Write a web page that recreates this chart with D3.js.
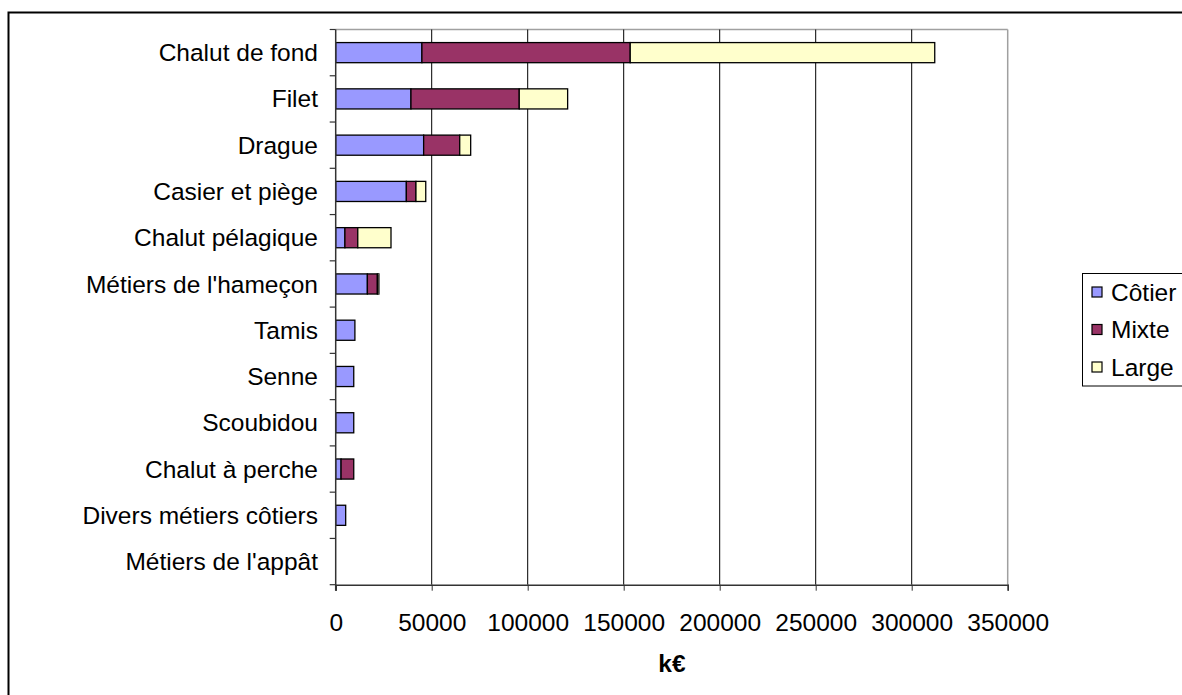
<!DOCTYPE html>
<html><head><meta charset="utf-8">
<script src="https://cdn.jsdelivr.net/npm/d3@7"></script>
<style>body{margin:0;background:#fff;} text{font-family:"Liberation Sans",Arial,sans-serif;}</style>
</head><body>
<svg id="c" width="1182" height="695"></svg>
<script>
const categories = ["Chalut de fond","Filet","Drague","Casier et piège","Chalut pélagique","Métiers de l'hameçon","Tamis","Senne","Scoubidou","Chalut à perche","Divers métiers côtiers","Métiers de l'appât"];
const cotier = [44900, 39200, 45800, 36800, 4800, 16500, 10000, 9400, 9400, 2800, 5200, 0];
const mixte  = [108500, 56400, 18800, 5000, 6700, 5200, 0, 0, 0, 6600, 0, 0];
const large  = [158600, 25200, 5700, 5100, 17300, 800, 0, 0, 0, 0, 0, 0];
const seriesNames = ["Côtier","Mixte","Large"];
const colors = ["#9999FF","#993366","#FFFFCC"];
const xTicks = [0,50000,100000,150000,200000,250000,300000,350000];
const FS = 24.5;

const svg = d3.select("#c");
// outer border
svg.append("rect").attr("x",8.5).attr("y",12.5).attr("width",1200).attr("height",700)
  .attr("fill","none").attr("stroke","#000").attr("stroke-width",2);

const L=335.7, R=1007.7, T=29.5, B=584.7;
const x = d3.scaleLinear().domain([0,350000]).range([L,R]);
const y = d3.scaleBand().domain(categories).range([T,B]).paddingInner(1.3/2.3).paddingOuter(0.65/2.3);
const yb = d3.scaleBand().domain(categories).range([T,B]);

// plot area border (top/right gray)
svg.append("line").attr("x1",L).attr("x2",R).attr("y1",T).attr("y2",T).attr("stroke","#a0a0a0").attr("stroke-width",1.5);
svg.append("line").attr("x1",R).attr("x2",R).attr("y1",T).attr("y2",B).attr("stroke","#a0a0a0").attr("stroke-width",1.5);
// gridlines
svg.append("g").selectAll("line").data(xTicks.slice(1,-1)).join("line")
  .attr("x1",d=>x(d)).attr("x2",d=>x(d)).attr("y1",T).attr("y2",B).attr("stroke","#000").attr("stroke-width",1);

// stacked bars
const data = categories.map((c,i)=>({cat:c, "Côtier":cotier[i], "Mixte":mixte[i], "Large":large[i]}));
const stack = d3.stack().keys(seriesNames)(data);
stack.forEach((s,si)=>{
  svg.append("g").selectAll("rect").data(s.filter(d=>d[1]-d[0]>0)).join("rect")
    .attr("x",d=>x(d[0])).attr("width",d=>x(d[1])-x(d[0]))
    .attr("y",d=>y(d.data.cat)).attr("height",y.bandwidth())
    .attr("fill",colors[si]).attr("stroke","#000").attr("stroke-width",1.3);
});

// x axis
const xa = svg.append("g").attr("transform",`translate(0,${B})`)
  .call(d3.axisBottom(x).tickValues(xTicks).tickFormat(d3.format("d")).tickSize(6).tickPadding(23));
xa.select(".domain").attr("stroke","#333").attr("stroke-width",1.5);
xa.selectAll(".tick line").attr("stroke","#333");
xa.selectAll("text").attr("font-size",FS).attr("fill","#000").attr("font-family","Liberation Sans, Arial, sans-serif");

// y axis
svg.append("line").attr("x1",L).attr("x2",L).attr("y1",T).attr("y2",B+6).attr("stroke","#333").attr("stroke-width",1.5);
svg.append("g").selectAll("line").data(categories).join("line")
  .attr("x1",L-6).attr("x2",L).attr("y1",d=>yb(d)).attr("y2",d=>yb(d)).attr("stroke","#333").attr("stroke-width",1.2);
svg.append("line").attr("x1",L-6).attr("x2",L).attr("y1",B).attr("y2",B).attr("stroke","#333").attr("stroke-width",1.2);
svg.append("g").selectAll("text").data(categories).join("text")
  .attr("x",318).attr("y",d=>yb(d)+yb.bandwidth()/2).attr("dy","0.35em")
  .attr("text-anchor","end").attr("font-size",FS).text(d=>d);

// axis title
svg.append("text").attr("x",672).attr("y",672).attr("text-anchor","middle")
  .attr("font-size",FS).attr("font-weight","bold").text("k€");

// legend
svg.append("rect").attr("x",1082.5).attr("y",273.5).attr("width",120).attr("height",112.5)
  .attr("fill","#fff").attr("stroke","#000").attr("stroke-width",1);
const lg = svg.append("g").selectAll("g").data(seriesNames).join("g")
  .attr("transform",(d,i)=>`translate(1092,${292+i*37.5})`);
lg.append("rect").attr("x",0).attr("y",-5).attr("width",10).attr("height",10)
  .attr("fill",(d,i)=>colors[i]).attr("stroke","#000").attr("stroke-width",1.2);
lg.append("text").attr("x",19).attr("y",0).attr("dy","0.35em").attr("font-size",FS).text(d=>d);
</script>
</body></html>
